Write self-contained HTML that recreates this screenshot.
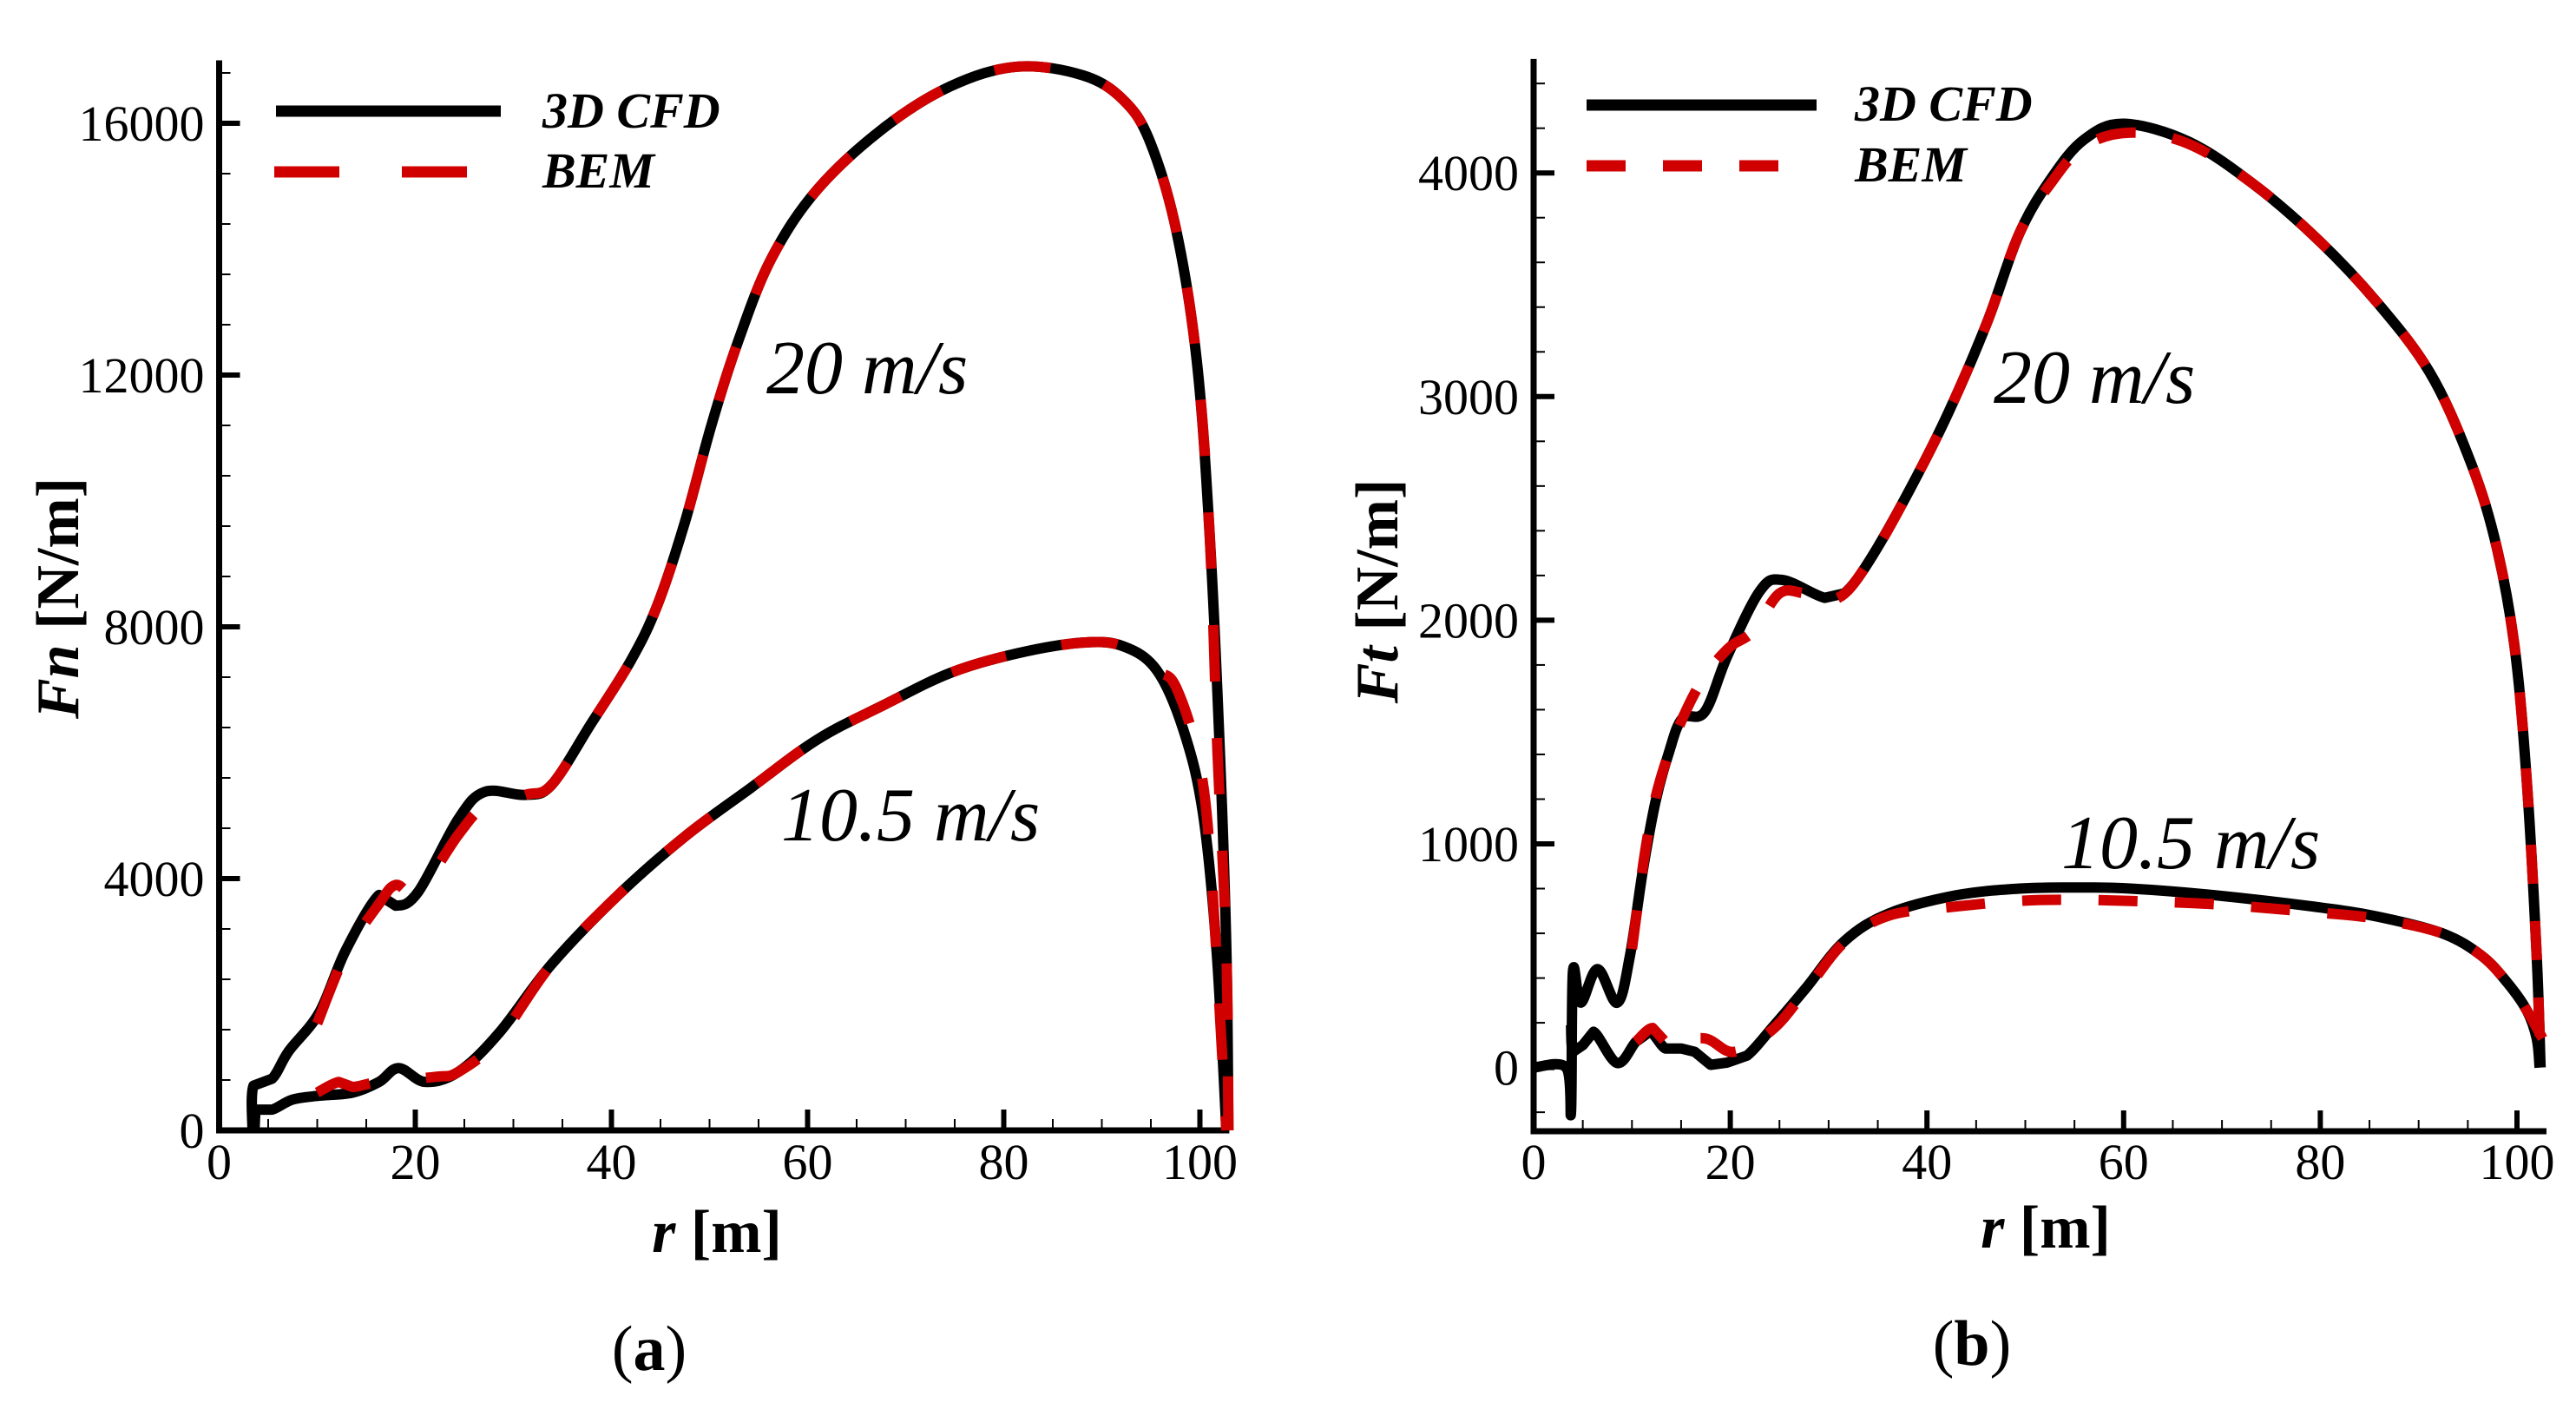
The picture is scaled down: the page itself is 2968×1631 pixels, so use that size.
<!DOCTYPE html>
<html><head><meta charset="utf-8">
<style>
html,body{margin:0;padding:0;background:#fff;}
svg{display:block;}
text{font-family:"Liberation Serif",serif;fill:#000;}
</style></head>
<body>
<svg id="fig" width="2968" height="1631" viewBox="0 0 2968 1631" xmlns="http://www.w3.org/2000/svg">
  <g id="plotA"></g>
  <g id="plotB"></g>
</svg>
<script>
// ---- Data: panel (a) normal force Fn ----
const fnCfd20R = [3.4,3.5,5.4,7.1,10.2,12.9,16.3,18,20.3,24.4,27.1,31.2,33.9,38,42,44.7,47.5,50.2,52.9,56.3,61,67.8,74.6,81.4,88.1,92.2,94.9,97.6,99.7,101,102,102.7,102.9];
const fnCfd20V = [0,710,820,1260,1870,2860,3740,3570,3790,4950,5380,5330,5490,6480,7470,8350,9670,11210,12530,13850,14950,15930,16590,16900,16760,16370,15710,14290,12200,9450,6150,2860,0];
const fnBem20R = [10,12.9,16.3,18,20.3,24.4,27.1,31.2,33.9,38,42,44.7,47.5,50.2,52.9,56.3,61,67.8,74.6,81.4,88.1,92.2,94.9,97.6,99.7,101,101.8,102.7,102.9];
const fnBem20V = [1700,2800,3600,3900,3790,4700,5150,5330,5490,6480,7470,8350,9670,11210,12530,13850,14950,15930,16590,16900,16760,16370,15710,14290,12200,9450,6000,2860,0];
const fnCfd10R = [3.6,3.7,5.4,7.5,10.2,13.6,16.3,18.3,21,24.4,28.5,33.9,40.7,47.5,54.2,61,67.8,74.6,81.4,88.1,92.2,95.6,98.3,100.3,101.7,102.7];
const fnCfd10V = [0,330,330,490,550,600,770,990,770,930,1540,2640,3740,4670,5440,6210,6760,7270,7580,7750,7690,7310,6370,5050,2860,0];
const fnBem10R = [10,12.2,13.6,16.3,22,24.4,28.5,33.9,40.7,47.5,54.2,61,67.8,74.6,81.4,88.1,92.2,95.6,97.6,100,101.2,102.7];
const fnBem10V = [600,770,690,770,850,930,1450,2640,3740,4670,5440,6210,6760,7270,7580,7750,7690,7310,7030,5800,4000,0];
const fnXTicks = [0,20,40,60,80,100];
const fnYTicks = [0,4000,8000,12000,16000];

// ---- Data: panel (b) tangential force Ft ----
const ftCfd20R = [0,3.3,3.8,4,4.8,6.5,8.5,9.8,11.1,12.4,13.7,15.1,17.4,19.7,23,25.3,29.6,31.6,34.2,38.2,42.2,46.1,49.4,52.7,56,60,66.6,73.2,79.8,85.8,91.1,95,97.7,99.7,101,102,102.4];
const ftCfd20V = [0,0,-200,430,290,440,290,500,880,1190,1400,1560,1590,1840,2130,2180,2100,2120,2270,2580,2930,3330,3730,3980,4150,4220,4140,3950,3700,3420,3110,2740,2370,1900,1280,500,0];
const ftBem20R = [10,11.7,13.7,16.7,19.7,22.3,25,27.6,31,34.2,38.2,42.2,46.1,49.4,52.7,56,60.7,66.6,73.2,79.8,85.8,91.1,95,97.7,99.7,101,102,102.4];
const ftBem20V = [530,1060,1400,1700,1870,1950,2120,2120,2100,2270,2580,2930,3330,3730,3960,4120,4180,4130,3950,3700,3420,3110,2740,2370,1900,1280,500,0];
const ftCfd10R = [3.8,4,5,6.1,8.5,10.4,11.8,13.4,15,16.4,18,19.7,21.7,24.3,27.6,31.6,36.2,43,49.4,54.7,60.7,69.3,79.2,85.8,92.4,96.4,99,101,102,102.3];
const ftCfd10V = [190,70,100,160,20,115,160,85,85,70,12,22,53,180,350,565,690,770,800,805,800,770,720,675,600,500,380,255,130,0];
const ftBem10R = [10.4,12.1,13.4,17.4,20.4,24.3,27.6,31.6,36.2,43,49.4,54.7,60.7,69.3,79.2,85.8,92.4,96.4,99,101,102.6];
const ftBem10V = [115,177,115,130,70,170,340,560,680,720,745,750,745,730,695,665,600,500,380,255,130];
const ftXTicks = [0,20,40,60,80,100];
const ftYTicks = [0,1000,2000,3000,4000];

const NS = 'http://www.w3.org/2000/svg';
function mk(parent, tag, attrs, txt){
  const e = document.createElementNS(NS, tag);
  for (const k in attrs) e.setAttribute(k, attrs[k]);
  if (txt !== undefined) e.textContent = txt;
  parent.appendChild(e);
  return e;
}

function smoothPath(pts){
  let d = 'M' + pts[0][0].toFixed(1) + ',' + pts[0][1].toFixed(1);
  for (let i = 0; i < pts.length - 1; i++) {
    const p0 = pts[Math.max(0, i - 1)], p1 = pts[i], p2 = pts[i + 1], p3 = pts[Math.min(pts.length - 1, i + 2)];
    const seg = Math.hypot(p2[0]-p1[0], p2[1]-p1[1]);
    if (seg < 25) { d += ' L' + p2[0].toFixed(1) + ',' + p2[1].toFixed(1); continue; }
    const t = 0.17;
    const c1 = [p1[0] + (p2[0]-p0[0])*t, p1[1] + (p2[1]-p0[1])*t];
    const c2 = [p2[0] - (p3[0]-p1[0])*t, p2[1] - (p3[1]-p1[1])*t];
    d += ' C' + c1[0].toFixed(1) + ',' + c1[1].toFixed(1) + ' ' + c2[0].toFixed(1) + ',' + c2[1].toFixed(1) + ' ' + p2[0].toFixed(1) + ',' + p2[1].toFixed(1);
  }
  return d;
}

function drawPanel(g, cfg){
  const sx = v => cfg.x0 + v * cfg.kx;
  const sy = v => cfg.y0 - v * cfg.ky;
  const left = sx(0), right = sx(cfg.xmax), bottom = sy(cfg.ymin), top = sy(cfg.ymax);

  for (let v = 0; v <= cfg.xmax + 1e-6; v += 5) {
    const major = v % 20 === 0;
    const t = mk(g, 'line', {x1: sx(v), x2: sx(v), y1: bottom, y2: bottom - (major ? 24 : 13), stroke: '#000', 'stroke-width': major ? 6 : 2});
    
    
  }
  for (let v = Math.ceil(cfg.ymin / cfg.yminor) * cfg.yminor; v <= cfg.ymax + 1e-6; v += cfg.yminor) {
    const major = Math.abs(v % cfg.ymajor) < 1e-6;
    const t = mk(g, 'line', {x1: left, x2: left + (major ? 24 : 13), y1: sy(v), y2: sy(v), stroke: '#000', 'stroke-width': major ? 6 : 2});
    
    
  }
  const ax = mk(g, 'path', {d: `M${left},${top} L${left},${bottom} L${right},${bottom}`, fill: 'none', stroke: '#000', 'stroke-width': 7});
  
  

  cfg.xt.forEach(v => {
    const t = mk(g, 'text', {x: sx(v), y: 1358, 'text-anchor': 'middle', 'font-size': 58}, String(v));
    
    
  });
  cfg.yt.forEach(v => {
    const t = mk(g, 'text', {x: left - 17, y: sy(v) + 20, 'text-anchor': 'end', 'font-size': 58}, String(v));
    
    
  });

  cfg.series.forEach(s => {
    const pts = s.r.map((r, i) => [sx(r), sy(s.v[i])]);
    const p = mk(g, 'path', {d: smoothPath(pts), fill: 'none', stroke: s.bem ? '#d00000' : '#000', 'stroke-width': 12,
      'stroke-linejoin': 'round', 'stroke-dasharray': s.bem ? cfg.dash : 'none'});
    
    
  });
}

const gA = document.getElementById('plotA');
drawPanel(gA, {x0: 252.5, kx: 11.3, y0: 1302, ky: 290/4000, xmax: 103, ymin: 0, ymax: 17000, yminor: 800, ymajor: 4000,
  xt: fnXTicks, yt: fnYTicks, dash: '65 65',
  series: [
    {r: fnCfd20R, v: fnCfd20V, name: 'fn-cfd-20ms-line'},
    {r: fnCfd10R, v: fnCfd10V, name: 'fn-cfd-10-5ms-line'},
    {r: fnBem20R, v: fnBem20V, bem: true, name: 'fn-bem-20ms-line'},
    {r: fnBem10R, v: fnBem10V, bem: true, name: 'fn-bem-10-5ms-line'}
  ]});

const gB = document.getElementById('plotB');
drawPanel(gB, {x0: 1767, kx: 11.33, y0: 1229.6, ky: 257.6/1000, xmax: 103, ymin: -285, ymax: 4510, yminor: 200, ymajor: 1000,
  xt: ftXTicks, yt: ftYTicks, dash: '45 43',
  series: [
    {r: ftCfd20R, v: ftCfd20V, name: 'ft-cfd-20ms-line'},
    {r: ftCfd10R, v: ftCfd10V, name: 'ft-cfd-10-5ms-line'},
    {r: ftBem20R, v: ftBem20V, bem: true, name: 'ft-bem-20ms-line'},
    {r: ftBem10R, v: ftBem10V, bem: true, name: 'ft-bem-10-5ms-line'}
  ]});
</script>
<svg style="position:absolute;left:0;top:0" width="2968" height="1631">
  <g>
    <line x1="318" y1="128" x2="577" y2="128" stroke="#000" stroke-width="13"/>
    <line x1="316" y1="198" x2="577" y2="198" stroke="#d00000" stroke-width="13" stroke-dasharray="75 72"/>
    <text x="625" y="147" font-size="58" font-weight="bold" font-style="italic" font-family="Liberation Serif, serif">3D CFD</text>
    <text x="625" y="216" font-size="58" font-weight="bold" font-style="italic" font-family="Liberation Serif, serif">BEM</text>
  </g>
  <g>
    <line x1="1828" y1="121" x2="2093" y2="121" stroke="#000" stroke-width="13"/>
    <line x1="1828" y1="191" x2="2050" y2="191" stroke="#d00000" stroke-width="13" stroke-dasharray="45 43"/>
    <text x="2137" y="139" font-size="58" font-weight="bold" font-style="italic" font-family="Liberation Serif, serif">3D CFD</text>
    <text x="2137" y="209" font-size="58" font-weight="bold" font-style="italic" font-family="Liberation Serif, serif">BEM</text>
  </g>
  <g font-family="Liberation Serif, serif" font-style="italic" font-size="88">
    <text x="883" y="453">20 m/s</text>
    <text x="900" y="968">10.5 m/s</text>
    <text x="2297" y="464">20 m/s</text>
    <text x="2375" y="1000">10.5 m/s</text>
  </g>
  <g font-family="Liberation Serif, serif" font-weight="bold" font-size="70">
    <text x="826" y="1442" text-anchor="middle"><tspan font-style="italic">r</tspan> [m]</text>
    <text x="2357" y="1437" text-anchor="middle"><tspan font-style="italic">r</tspan> [m]</text>
    <text transform="translate(90,689) rotate(-90)" text-anchor="middle"><tspan font-style="italic">Fn</tspan> [N/m]</text>
    <text transform="translate(1610,681) rotate(-90)" text-anchor="middle"><tspan font-style="italic">Ft</tspan> [N/m]</text>
  </g>
  <g font-family="Liberation Serif, serif" font-size="74">
    <text x="748" y="1578" text-anchor="middle">(<tspan font-weight="bold">a</tspan>)</text>
    <text x="2272" y="1572" text-anchor="middle">(<tspan font-weight="bold">b</tspan>)</text>
  </g>
</svg>
</body></html>
